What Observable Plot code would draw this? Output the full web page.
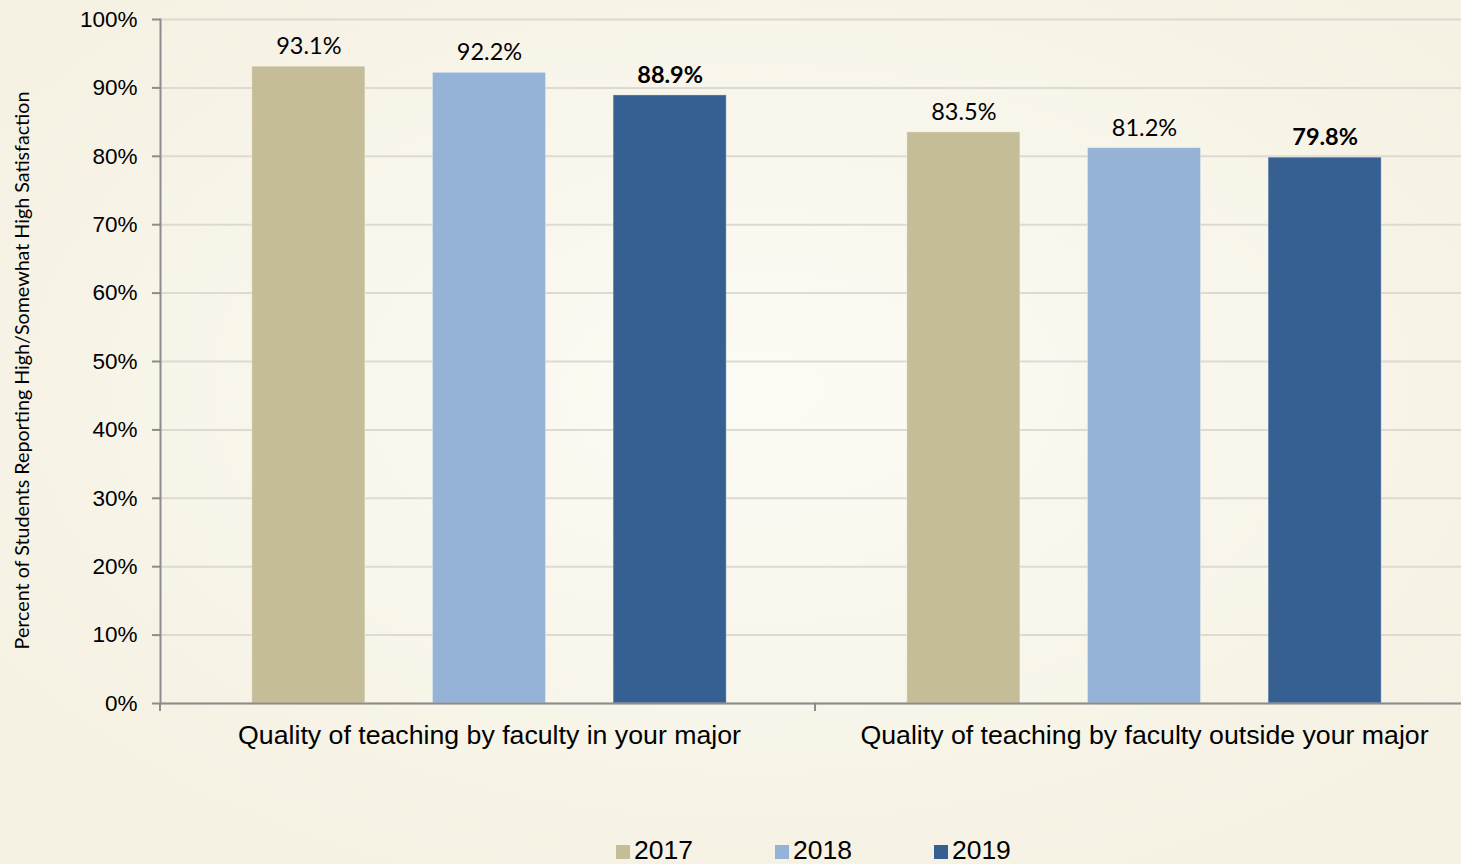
<!DOCTYPE html>
<html><head><meta charset="utf-8">
<script src="https://cdn.jsdelivr.net/npm/d3@7"></script>
<script src="https://cdn.jsdelivr.net/npm/@observablehq/plot@0.6"></script>
<style>
html,body{margin:0;padding:0;width:1461px;height:864px;overflow:hidden;}
body{background: radial-gradient(ellipse 60% 60% at 52% 45%, #fcfbf4 0%, #f8f5ea 60%, #f5f1e3 100%);position:relative;}
#legend{position:absolute;left:616px;top:835px;display:flex;gap:82px;font-family:"Liberation Sans",Arial,sans-serif;font-size:26.5px;color:#000;}
#legend .item{display:flex;align-items:center;gap:4px;}
#legend .sw{width:14px;height:14px;display:inline-block;margin-top:2px;}
</style></head><body>
<div id="chart"></div>
<div id="legend"></div>
<script>
const categories = ["Quality of teaching by faculty in your major", "Quality of teaching by faculty outside your major"];
const years = ["2017", "2018", "2019"];
const values2017 = [93.1, 83.5];
const values2018 = [92.2, 81.2];
const values2019 = [88.9, 79.8];
const yTicks = [0, 10, 20, 30, 40, 50, 60, 70, 80, 90, 100];
const colors = ["#c4bd97", "#95b3d7", "#366092"];
const yTitle = "Percent of Students Reporting High/Somewhat High Satisfaction";

const series = [values2017, values2018, values2019];
const rows = [];
categories.forEach((c, i) => years.forEach((yr, j) => rows.push({category: c, year: yr, value: series[j][i]})));

const plot = Plot.plot({
  width: 1461, height: 820,
  marginLeft: 160, marginRight: 0, marginTop: 19, marginBottom: 117,
  style: {background: "transparent", fontFamily: "'Liberation Sans', Arial, sans-serif", overflow: "visible"},
  fx: {domain: categories, range: [161.5, 1471.5], padding: 0, round: false, axis: null, label: null},
  x: {domain: years, paddingInner: 0.374, paddingOuter: 0.5, round: false, axis: null},
  y: {domain: [0, 100], range: [703, 19], axis: null},
  color: {domain: years, range: colors},
  marks: [
    Plot.gridY(yTicks, {stroke: "#dcdad2", strokeOpacity: 1, strokeWidth: 2, dx: -1.5, insetRight: -1.5}),
    Plot.barY(rows, {fx: "category", x: "year", y: "value", fill: "year", stroke: "#ffffff", strokeOpacity: 0.35, strokeWidth: 1}),
    Plot.text(rows.filter(d => d.year !== "2019"), {fx: "category", x: "year", y: "value", text: d => d.value.toFixed(1) + "%", dy: -20, fontSize: 23.5, fontFamily: "Lato, 'Open Sans', sans-serif", fill: "#000"}),
    Plot.text(rows.filter(d => d.year === "2019"), {fx: "category", x: "year", y: "value", text: d => d.value.toFixed(1) + "%", dy: -20, fontSize: 23.5, fontWeight: "bold", fontFamily: "Lato, 'Open Sans', sans-serif", fill: "#000"}),
    Plot.ruleY([0], {stroke: "#8c8c8c", strokeWidth: 2, dx: -1.5, insetRight: -1.5}),
    Plot.frame({anchor: "left", stroke: "#8c8c8c", strokeWidth: 2, facetAnchor: "left", dx: -1.5}),
    Plot.axisY(yTicks, {tickSize: 8, tickPadding: 15, tickFormat: d => d + "%", fontSize: 22.5, stroke: "#8c8c8c", strokeWidth: 2, fill: "#000", label: null, dx: -1.5}),
    Plot.text(categories, {fx: d => d, text: d => d, frameAnchor: "bottom", dy: 40, fontSize: 26.7, fill: "#000"}),
    Plot.text([yTitle], {frameAnchor: "left", rotate: -90, textAnchor: "middle", dx: -139.5, dy: 9, fontSize: 19.7, fontFamily: "Lato, 'Open Sans', sans-serif", fill: "#000", facetAnchor: "left"})
  ]
});
document.getElementById("chart").appendChild(plot);

// category boundary ticks on the x axis, from the fx scale
const fxs = plot.scale("fx");
const ys = plot.scale("y");
const bounds = categories.map(c => fxs.apply(c) - 1.5).concat([fxs.apply(categories[categories.length - 1]) + fxs.bandwidth]);
d3.select(plot).append("g").selectAll("line").data(bounds).join("line")
  .attr("x1", d => d).attr("x2", d => d)
  .attr("y1", ys.apply(0)).attr("y2", ys.apply(0) + 8)
  .attr("stroke", "#8c8c8c").attr("stroke-width", 2);

const legend = d3.select("#legend");
years.forEach((yr, i) => {
  const it = legend.append("div").attr("class", "item");
  it.append("span").attr("class", "sw").style("background", colors[i]);
  it.append("span").text(yr);
});
</script>
</body></html>
